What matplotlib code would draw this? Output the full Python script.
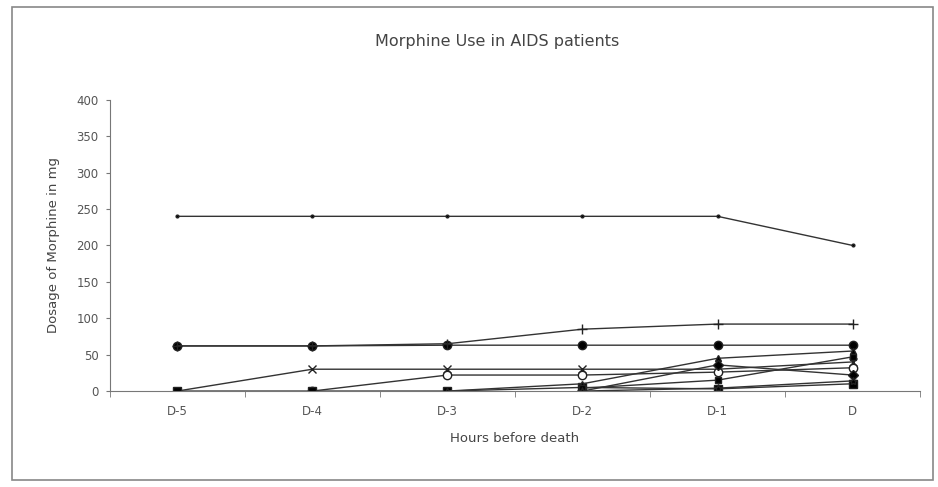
import numpy as np
import matplotlib
matplotlib.use("Agg")
import matplotlib.pyplot as plt
from matplotlib.patches import Rectangle

nan = np.nan
days = ["D-5", "D-4", "D-3", "D-2", "D-1", "D"]

# morphine dose (mg) per patient
p1 = [240, 240, 240, 240, 240, 200]
p2 = [62, 62, 63, 63, 63, 63]
p3 = [62, 62, 65, 85, 92, 92]
p4 = [0, 30, 30, 30, 30, 40]
p5 = [nan, 0, 22, 22, 26, 32]
p6 = [0, 0, 0, 5, 3, 10]
p7 = [nan, nan, 0, 10, 45, 55]
p8 = [nan, nan, nan, 0, 36, 22]
p9 = [nan, nan, nan, 4, 15, 47]
p10 = [nan, nan, nan, 0, 4, 14]

series = [p1, p2, p3, p4, p5, p6, p7, p8, p9, p10]
markers = [".", "o", "+", "x", "o", "s", "^", "D", "s", "*"]
fills = ["k", "k", "k", "k", "white", "k", "k", "k", "k", "k"]
sizes = [4, 6, 7, 6, 6, 6, 5, 5, 5, 6]

fig = plt.figure(figsize=(9.38, 4.87), dpi=100)
ax = fig.add_axes([0.117, 0.197, 0.864, 0.598])

x = np.arange(len(days))
for s, m, fc, ms in zip(series, markers, fills, sizes):
    ax.plot(x, s, color="#333333", linewidth=1.0, marker=m, markersize=ms,
            markerfacecolor=fc, markeredgecolor="#222222", markeredgewidth=1.0)

ax.set_xlim(-0.5, 5.5)
ax.set_ylim(0, 400)
ax.set_yticks(range(0, 401, 50))
ax.set_xticks(x)
ax.set_xticklabels(days)
ax.set_xticks(np.arange(-0.5, 5.6, 1), minor=True)
ax.tick_params(axis="x", which="major", length=0, pad=10)
ax.tick_params(axis="x", which="minor", length=4, direction="out", color="#777777")
ax.tick_params(axis="y", length=3, color="#777777", pad=5)
ax.tick_params(labelsize=8.5, labelcolor="#555555")

for side in ["top", "right"]:
    ax.spines[side].set_visible(False)
for side in ["left", "bottom"]:
    ax.spines[side].set_color("#777777")

ax.set_ylabel("Dosage of Morphine in mg", fontsize=9.5, color="#444444", labelpad=12)
ax.set_xlabel("Hours before death", fontsize=9.5, color="#444444", labelpad=10)
fig.text(0.53, 0.915, "Morphine Use in AIDS patients", ha="center", va="center",
         fontsize=11.5, color="#444444")

# outer chart border
fig.patches.append(Rectangle((0.013, 0.015), 0.982, 0.97, transform=fig.transFigure,
                             fill=False, edgecolor="#888888", linewidth=1.2))

fig.savefig("out.png", dpi=100, facecolor="white")
